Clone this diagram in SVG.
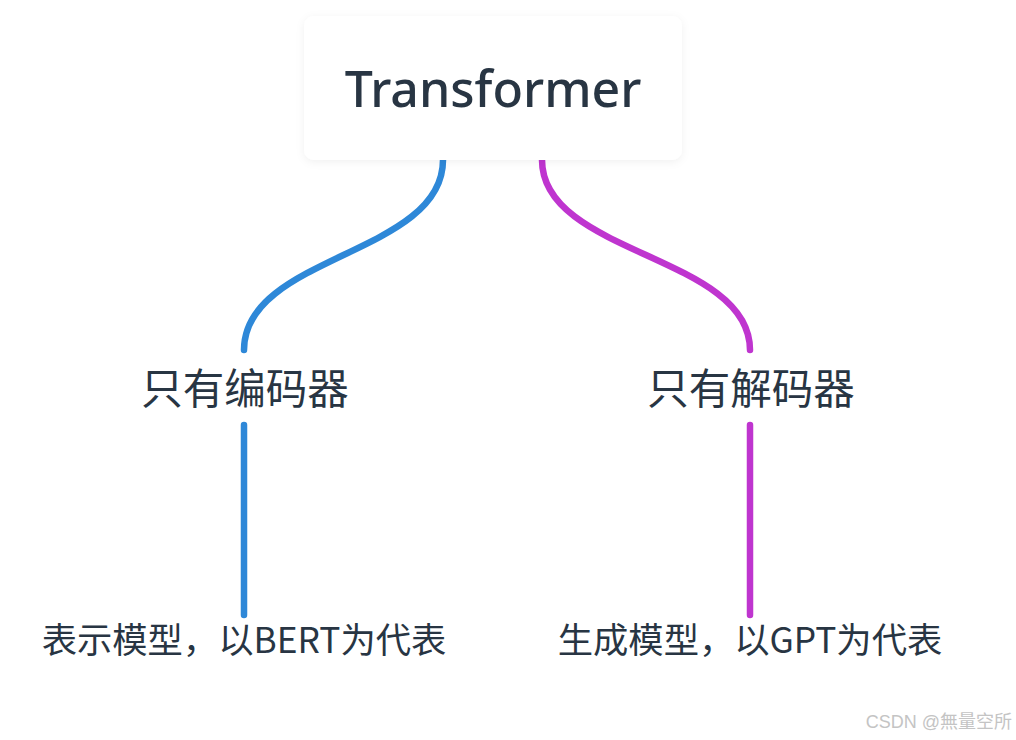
<svg xmlns="http://www.w3.org/2000/svg" width="1016" height="740" viewBox="0 0 1016 740">
<style>
.lbl{font-family:"Noto Sans","Noto Sans CJK SC",sans-serif;fill:#283543;text-anchor:middle}
.cjk{font-family:"Noto Sans CJK SC","Noto Sans",sans-serif;fill:#283543;text-anchor:middle}
.blue{stroke:#2e88d8;stroke-width:6.5;fill:none;stroke-linecap:round}
.purple{stroke:#bf35cf;stroke-width:6.5;fill:none;stroke-linecap:round}
</style>
<defs>
<filter id="sh" x="-10%" y="-20%" width="120%" height="140%">
<feDropShadow dx="0" dy="2" stdDeviation="4" flood-color="#000" flood-opacity="0.06"/>
</filter>
</defs>
<rect width="1016" height="740" fill="#fff"/>
<g id="connectors">
<path class="blue" d="M443,160 C443,255 244,255 244,350"/>
<path class="purple" d="M542,160 C542,255 750,255 750,350"/>
<path class="blue" d="M244,425 L244,615"/>
<path class="purple" d="M750,425 L750,615"/>
</g>
<g id="transformer">
<rect x="304" y="16" width="378" height="144" rx="10" fill="#fff" filter="url(#sh)"/>
<text class="lbl" x="493" y="107" font-size="50" font-weight="500">Transformer</text>
</g>
<g id="encoder">
<text class="cjk" x="245" y="404" font-size="41.5">只有编码器</text>
</g>
<g id="decoder">
<text class="cjk" x="751" y="404" font-size="41.5">只有解码器</text>
</g>
<g id="bert">
<text class="cjk" x="244" y="653" font-size="35.3">表示模型，以BERT为代表</text>
</g>
<g id="gpt">
<text class="cjk" x="750" y="653" font-size="35.3">生成模型，以GPT为代表</text>
</g>
<text x="1012" y="728" font-family="Liberation Sans,Noto Sans CJK SC,sans-serif" font-size="18" fill="#c4c4c4" text-anchor="end">CSDN @無量空所</text>
</svg>
